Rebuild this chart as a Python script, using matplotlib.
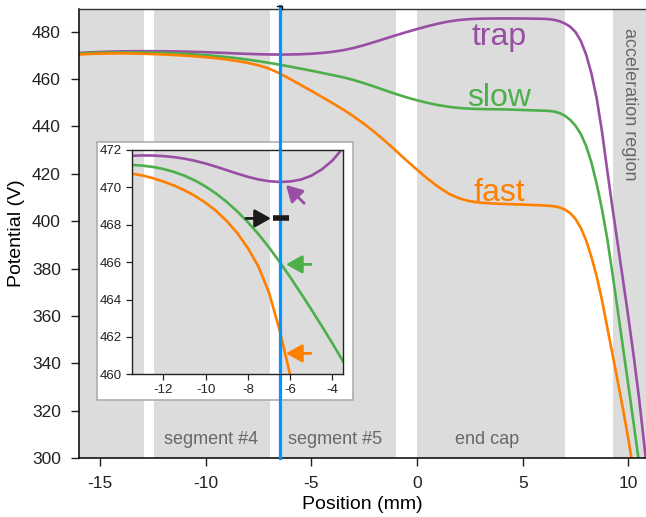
import matplotlib
matplotlib.use('Agg')
import matplotlib.pyplot as plt
from matplotlib.patches import Rectangle, ArrowStyle
from matplotlib.lines import Line2D

plt.rcParams['font.family'] = ['Liberation Sans', 'DejaVu Sans']
plt.rcParams['axes.unicode_minus'] = False

# ---------------- data ----------------
position = [-16, -15.5, -15, -14.5, -14, -13.5, -13, -12.5, -12, -11.5, -11, -10.5,
            -10, -9.5, -9, -8.5, -8, -7.5, -7, -6.5, -6, -5.5, -5, -4.5, -4, -3.5,
            -3, -2.5, -2, -1.5, -1, -0.5, 0, 0.5, 1, 1.5, 2, 2.5, 3, 3.5, 4, 5, 6,
            6.25, 6.5, 6.75, 7, 7.25, 7.5, 7.75, 8, 8.25, 8.5, 8.75, 9, 9.25, 9.5,
            9.75, 10, 10.25, 10.5, 10.75, 11]

trap = [470.95, 471.2, 471.38, 471.53, 471.63, 471.69, 471.71, 471.705, 471.675,
        471.62, 471.535, 471.42, 471.275, 471.105, 470.92, 470.735, 470.565, 470.425,
        470.33, 470.29, 470.315, 470.415, 470.625, 470.965, 471.44, 472.115, 473.065,
        474.265, 475.615, 477.015, 478.415, 479.765, 481.04, 482.24, 483.34, 484.24,
        484.865, 485.24, 485.415, 485.49, 485.515, 485.5, 485.35,
        485.2, 484.9, 484.3, 483.35, 481.98, 479.73, 475.98, 470.23, 462.23, 451.73,
        437.73, 421.23, 405.23, 389.98, 374.73, 359.23, 342.98, 325.48, 305.5, 285.5]

slow = [470.75, 470.95, 471.08, 471.16, 471.2, 471.2, 471.165, 471.095, 470.985,
        470.83, 470.625, 470.365, 470.045, 469.665, 469.22, 468.71, 468.135, 467.495,
        466.785, 466.01, 465.195, 464.345, 463.47, 462.57, 461.65, 460.7, 459.55,
        458.2, 456.7, 455.15, 453.65, 452.25, 451.0, 449.9, 448.975, 448.25, 447.75,
        447.45, 447.3, 447.225, 447.19, 446.9, 446.6,
        446.5, 446.2, 445.58, 444.45, 442.7, 440.2, 436.7, 431.7, 424.7, 415.7,
        404.95, 392.45, 377.45, 361.95, 346.2, 330.45, 314.45, 298.2, 282.0, 265.8]

fast = [470.35, 470.55, 470.68, 470.75, 470.79, 470.74, 470.64, 470.495, 470.315,
        470.1, 469.845, 469.54, 469.175, 468.735, 468.2, 467.55, 466.75, 465.76,
        464.36, 462.36, 459.96, 457.46, 454.96, 452.41, 449.81, 447.11, 444.21,
        441.01, 437.51, 433.71, 429.71, 425.61, 421.71, 417.91, 414.51, 411.61,
        409.61, 408.41, 407.81, 407.51, 407.31, 407.0, 406.65,
        406.5, 406.25, 405.8, 404.9, 403.38, 400.88, 397.13, 391.88, 384.88, 376.63,
        366.63, 355.13, 343.63, 332.13, 320.38, 307.88, 294.13, 279.6, 264.6, 249.6]

series_names = ['trap', 'slow', 'fast']
series_label_y = [474.4, 448.4, 408.7]
series_label_x = 3.87

bands = [(-16.5, -12.9), (-12.42, -6.95), (-6.5, -1.0), (0.0, 7.0), (9.29, 11.5)]
band_labels = ['segment #4', 'segment #5', 'end cap']
band_label_x = [-9.72, -3.9, 3.29]
band_label_y = 306
accel_label = 'acceleration region'
accel_x, accel_y = 10.03, 449.5
marker_x = -6.49

x_ticks = [-15, -10, -5, 0, 5, 10]
y_ticks = [300, 320, 340, 360, 380, 400, 420, 440, 460, 480]
inset_x_ticks = [-12, -10, -8, -6, -4]
inset_y_ticks = [460, 462, 464, 466, 468, 470, 472]

# inset annotations: (tail_x, tail_y, head_x, head_y)
arrow_trap = (-5.34, 469.15, -6.2, 470.13)
arrow_slow = (-5.02, 465.88, -6.2, 465.88)
arrow_fast = (-5.02, 461.12, -6.2, 461.12)
arrow_black = (-8.09, 468.34, -6.91, 468.34)
bar_black = (-6.83, -6.08, 468.34)

colors = {'trap': '#984EA3', 'slow': '#4DAF4A', 'fast': '#FF7F00'}
blue = '#0096FF'
band_color = '#dcdcdc'
label_gray = '#686868'

# ---------------- figure ----------------
W, H = 646, 517
fig = plt.figure(figsize=(W / 100, H / 100), dpi=100)


def box(l, t, r, b):
    return [l / W, 1 - b / H, (r - l) / W, (b - t) / H]


main_l, main_r = 79, 646
xlim = (-15.99, 10.83)
ax = fig.add_axes(box(main_l, 9, main_r, 458.3))
ax.set_xlim(*xlim)
ax.set_ylim(300, 489.5)

for lo, hi in bands:
    ax.axvspan(lo, hi, color=band_color, lw=0, zorder=0)

data = {'trap': trap, 'slow': slow, 'fast': fast}
for name, ly in zip(series_names, series_label_y):
    ax.plot(position, data[name], color=colors[name], lw=1.9, zorder=2)
    ax.text(series_label_x, ly, name, color=colors[name], fontsize=23,
            ha='center', va='baseline', zorder=2)

for lab, lx in zip(band_labels, band_label_x):
    ax.text(lx, band_label_y, lab, color=label_gray, fontsize=13,
            ha='center', va='baseline', zorder=1)
ax.text(accel_x, accel_y, accel_label, color=label_gray, fontsize=13,
        rotation=-90, ha='center', va='center', zorder=1)

# inset frame (white with grey border), below the blue marker line
frame = Rectangle((96.7 / W, 1 - 400 / H), 256 / W, 258.3 / H,
                  transform=fig.transFigure, facecolor='white',
                  edgecolor='#a8a8a8', lw=1.1, zorder=3, clip_on=False)
ax.add_patch(frame)
ax.axvline(marker_x, ymin=0, ymax=1.006, color=blue, lw=2.3, zorder=4,
           clip_on=False)

ax.set_xticks(x_ticks)
ax.set_yticks(y_ticks)
ax.tick_params(labelsize=12.5, length=6, width=1, pad=7, colors='#222222')
ax.spines['right'].set_visible(False)
ax.spines['top'].set_color('#333333')
ax.spines['top'].set_linewidth(1.0)
ax.spines['left'].set_linewidth(1.1)
ax.spines['bottom'].set_linewidth(1.1)
ax.set_xlabel('Position (mm)', fontsize=14, labelpad=3)
ax.set_ylabel('Potential (V)', fontsize=14, labelpad=5)

# small black mark at the top of the marker line
mx = 417.0 + marker_x * 21.136
fig.add_artist(Line2D([(mx - 2.5) / W, (mx + 2.0) / W, (mx + 2.0) / W],
                      [1 - 5.5 / H, 1 - 5.5 / H, 1 - 9 / H],
                      transform=fig.transFigure, color='#111111', lw=1.0))

# ---------------- inset ----------------
in_l, in_r = 131.67, 343.3


def x_of_px(px):
    return xlim[0] + (px - main_l) / (main_r - main_l) * (xlim[1] - xlim[0])


ins = fig.add_axes(box(in_l, 150, in_r, 374.3))
ins.set_xlim(x_of_px(in_l), x_of_px(in_r))
ins.set_ylim(460, 472)
for lo, hi in bands:
    ins.axvspan(lo, hi, color=band_color, lw=0, zorder=0)
for name in series_names:
    ins.plot(position, data[name], color=colors[name], lw=1.9, zorder=2)
ins.axvline(marker_x, color=blue, lw=2.3, zorder=3)


def arrow(a, color):
    tx, ty, hx, hy = a
    ins.annotate('', xy=(hx, hy), xytext=(tx, ty),
                 arrowprops=dict(arrowstyle=ArrowStyle('-|>', head_length=0.75,
                                                       head_width=0.42),
                                 mutation_scale=13, lw=2.0, color=color,
                                 shrinkA=0, shrinkB=0),
                 zorder=5)


arrow(arrow_trap, colors['trap'])
arrow(arrow_slow, colors['slow'])
arrow(arrow_fast, colors['fast'])
arrow(arrow_black, '#1a1a1a')
ins.plot([bar_black[0], bar_black[1]], [bar_black[2], bar_black[2]],
         color='#1a1a1a', lw=4.0, solid_capstyle='butt', zorder=6)

ins.set_xticks(inset_x_ticks)
ins.set_yticks(inset_y_ticks)
ins.tick_params(labelsize=9.5, length=4, width=0.9, pad=3, colors='#222222')
for s in ins.spines.values():
    s.set_linewidth(1.0)
    s.set_color('#222222')

fig.savefig('out.png', dpi=100)
